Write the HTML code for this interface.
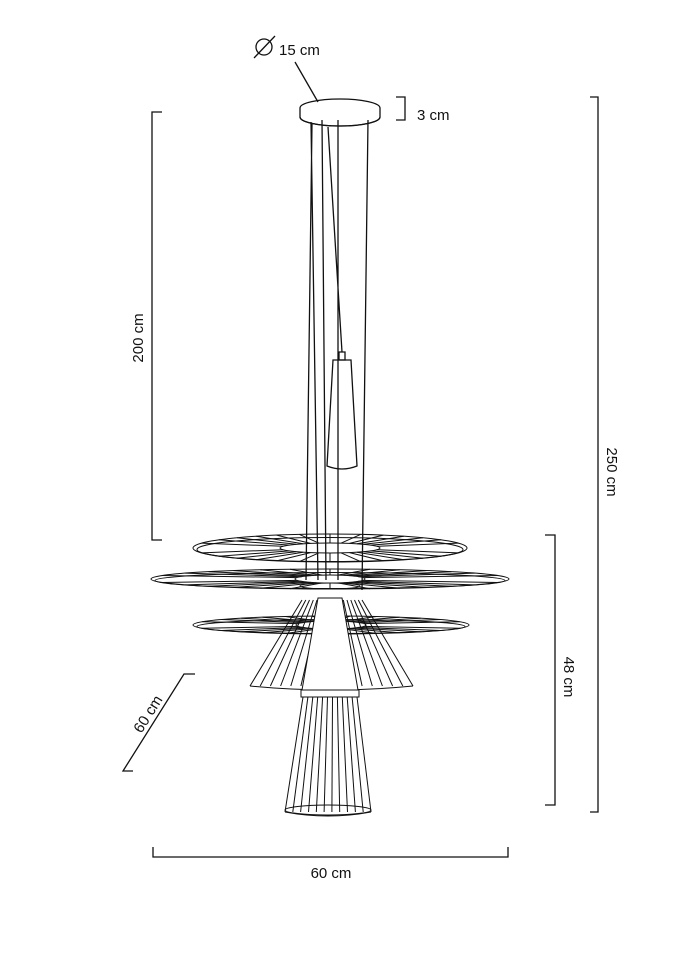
<!DOCTYPE html>
<html><head><meta charset="utf-8"><style>
html,body{margin:0;padding:0;background:#fff}
svg{display:block}
text{font-family:"Liberation Sans",sans-serif;font-size:15px;fill:#111}
</style></head><body>
<svg id="s" width="679" height="960" viewBox="0 0 679 960" fill="none" stroke="#111" stroke-width="1.3">
<path d="M162 112H152V540H162"/>
<text x="143" y="338" text-anchor="middle" transform="rotate(-90 143 338)" stroke="none">200 cm</text>
<path d="M590 97H598V812H590"/>
<text x="607" y="472" text-anchor="middle" transform="rotate(90 607 472)" stroke="none">250 cm</text>
<path d="M545 535H555V805H545"/>
<text x="564" y="677" text-anchor="middle" transform="rotate(90 564 677)" stroke="none">48 cm</text>
<path d="M153 847V857H508V847"/>
<text x="331" y="878" text-anchor="middle" stroke="none">60 cm</text>
<path d="M195 674H184L123 771H133"/>
<text x="148" y="719" text-anchor="middle" transform="rotate(-58 148 714)" stroke="none">60 cm</text>
<path d="M396 97H405V120H396"/>
<text x="417" y="120" stroke="none">3 cm</text>
<circle cx="264" cy="47" r="8"/><path d="M254 58L275 36"/>
<text x="279" y="55" stroke="none">15 cm</text>
<path d="M295 62L318 102"/>
<path d="M300 108A40 9 0 0 1 380 108V117A40 9 0 0 1 300 117Z"/>
<path d="M300 117A40 9 0 0 0 380 117"/>
<path d="M311 122L318 580M322 120L326 580M328 127L342 352M338 120V580M368 120L362 590M312 123L306 580"/>
<path d="M339 352H345V360H339Z"/>
<path d="M333 360H351L357 466Q342 472 327 466Z"/>
<g id="g" stroke-width="1"></g>
</svg>
<script>
var g=document.getElementById('g'),h='';
function L(a,b,c,d){h+='<path d="M'+a.toFixed(1)+' '+b.toFixed(1)+'L'+c.toFixed(1)+' '+d.toFixed(1)+'"/>';}
function E(cx,cy,rx,ry){h+='<ellipse cx="'+cx+'" cy="'+cy+'" rx="'+rx+'" ry="'+ry+'"/>';}
function disc(cx,cy,rx,ry,irx,iry,n){E(cx,cy,rx,ry);E(cx,cy+1.5,rx-4,ry-2);E(cx,cy,irx,iry);
for(var i=0;i<n;i++){var u=(i+0.5)/n*2-1;var x=Math.sign(u)*Math.pow(Math.abs(u),0.8);var t=Math.acos(x);
for(var s of [1,-1]){L(cx+irx*Math.cos(t),cy+s*iry*Math.sin(t),cx+rx*Math.cos(t),cy+s*ry*Math.sin(t));}}}
disc(330,548,137,14,50,5,13);
disc(330,579,179,10,35,4,13);
E(330,586,30,3);
disc(331,625,138,9,35,4,12);
function cone(x1,x2,y1,X1,X2,y2,n){for(var i=0;i<=n;i++){var f=i/n;L(x1+(x2-x1)*f,y1,X1+(X2-X1)*f,y2);}
h+='<path d="M'+X1+' '+y2+'Q'+(X1+X2)/2+' '+(y2+8)+' '+X2+' '+y2+'"/>';}
cone(302,362,600,250,413,686,16);
h+='<path d="M318 598H342L358 690H302Z" fill="#fff"/>';
h+='<path d="M301 690H359V697H301Z" fill="#fff"/>';
cone(303,357,697,285,371,812,11);
E(328,810,43,5);
g.innerHTML=h;
</script>
</body></html>
